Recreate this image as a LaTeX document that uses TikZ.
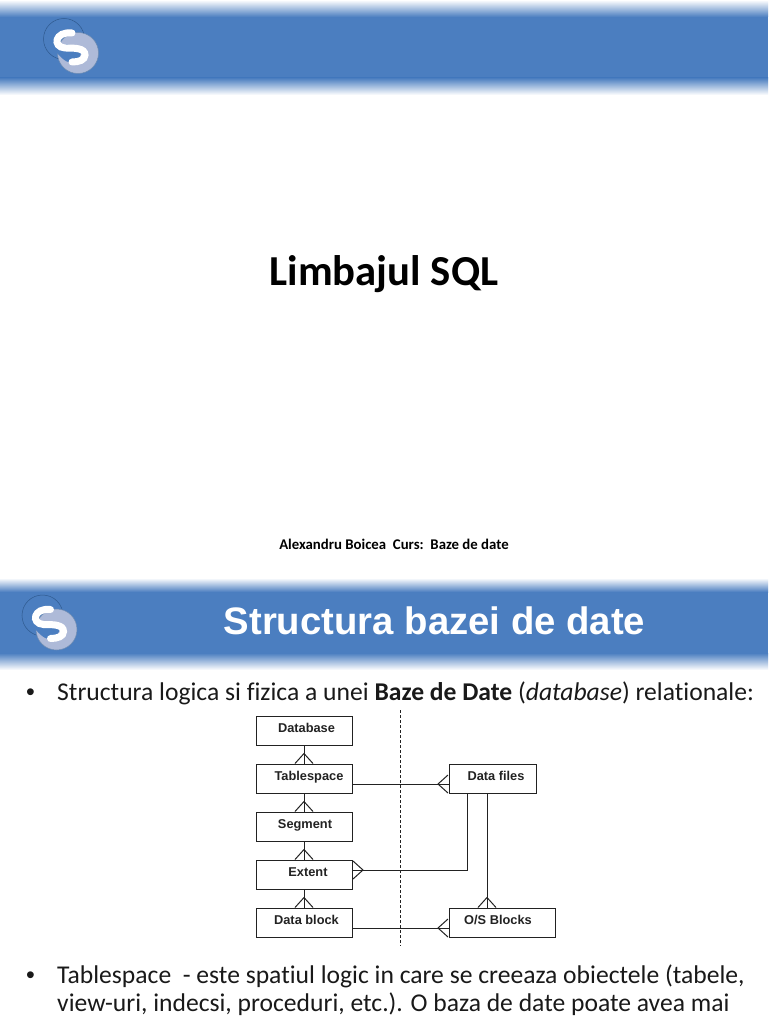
\documentclass[tikz,border=0pt]{standalone}
\usepackage{fontspec}
\setmainfont[Ligatures=NoCommon]{Carlito}
\newfontfamily\boxfont[Ligatures=NoCommon]{Liberation Sans}
\usetikzlibrary{arrows.meta, calc, positioning}
\definecolor{bandblue}{HTML}{4B7EC0}
\definecolor{logolight}{HTML}{AEBAD8}
\definecolor{logoedge}{HTML}{2F5A8F}
\definecolor{inkline}{HTML}{222222}
\tikzset{
    entity/.style={draw=inkline, line width=1pt, minimum height=29pt, inner sep=0pt, text depth=5.5pt, text height=8.5pt, font=\boxfont\bfseries\fontsize{12.8}{13}\selectfont, text=inkline},
    link/.style={draw=inkline, line width=1pt},
    crow/.style={link, preaction={draw=inkline, -}, -{Straight Barb[reversed, length=10pt, width=18pt, line width=1pt]}},
    bullet/.style={font=\fontsize{25.6}{28}\selectfont, anchor=base west, inner sep=0pt, text=black!90},
}
\begin{document}
\begin{tikzpicture}[x=1pt, y=-1pt]

    \useasboundingbox (0,0) rectangle (768,1024);

    % Bands
    \foreach \ytop/\ymid/\ylow/\yend in {0/17/78/95, 578/592/653/670} {
        \shade[top color=white, bottom color=bandblue] (0,\ytop) rectangle (768,\ymid);
        \fill[bandblue] (0,\ymid) rectangle (768,\ylow);
        \shade[top color=bandblue, bottom color=white] (0,\ylow) rectangle (768,\yend);
    }

    % Logos
    \foreach \cx/\cy in {71/46, 49.5/622.5} {
        \begin{scope}[shift={(\cx,\cy)}]
            \fill[bandblue, draw=logoedge, line width=0.5pt] (-7,-7) circle (20.5);
            \fill[logolight, draw=logoedge!70, line width=0.5pt] (7,7) circle (20.5);
            \fill[bandblue] (-17,3) .. controls (-10,-4) and (2,-2) .. (10,4) .. controls (11,8) and (9,13) .. (0,17) .. controls (-6,16) and (-12,10) .. (-17,3);
            \draw[white, line width=7pt, line cap=round] (1,-13) .. controls (-16,-15) and (-19,1) .. (-6,2) .. controls (4,2) and (14,2) .. (14,9) .. controls (14,14) and (8,16) .. (1,16);
        \end{scope}
    }

    % Titles
    \node[font=\bfseries\fontsize{42.7}{46}\selectfont, inner sep=0pt, anchor=base] (title) at (384,285) {Limbajul SQL};
    \node[font=\bfseries\fontsize{14.8}{16}\selectfont, inner sep=0pt, anchor=base] (author) at (394,549) {Alexandru Boicea\ \ Curs:\ \ Baze de date};
    \node[font=\boxfont\bfseries\fontsize{38.3}{42}\selectfont, text=white, inner sep=0pt, anchor=base] (heading) at (434.5,634) {Structura bazei de date};

    % Bullets
    \node[bullet, font=\boxfont\fontsize{25}{28}\selectfont] (bulletone) at (26,700) {•};
    \node[bullet] (lineone) at (57,700) {Structura logica si fizica a unei \textbf{Baze de Date} (\textit{database}) relationale:};
    \node[bullet, font=\boxfont\fontsize{25}{28}\selectfont] (bullettwo) at (26,983) {•};
    \node[bullet] (linetwo) at (57,983) {Tablespace\ \ - este spatiul logic in care se creeaza obiectele (tabele,};
    \node[bullet] (linethree) at (57,1011) {view-uri, indecsi, proceduri, etc.). O baza de date poate avea mai};

    % Logical side
    \node[entity, minimum width=96pt] (database) at (304,731) {\hspace*{5pt}Database};
    \node[entity, minimum width=96pt, below=18pt of database] (tablespace) {\hspace*{10pt}Tablespace};
    \node[entity, minimum width=96pt, below=18pt of tablespace] (segment) {\hspace*{2pt}Segment};
    \node[entity, minimum width=96pt, below=18pt of segment] (extent) {\hspace*{8pt}Extent};
    \node[entity, minimum width=96pt, below=18pt of extent] (datablock) {\hspace*{5pt}Data block};

    % Physical side
    \node[entity, minimum width=87pt, right=96pt of tablespace] (datafiles) {\hspace*{7pt}Data files};
    \node[entity, minimum width=106pt, right=96pt of datablock] (osblocks) {O/S Blocks\hspace*{8pt}};

    % Divider
    \coordinate (dashtop) at (400.5,710);
    \coordinate (dashbottom) at (400.5,946);
    \draw[inkline, line width=1pt, dashed, dash pattern=on 3pt off 2pt] (dashtop) -- (dashbottom);

    % Connectors
    \draw[crow] (database) -- (tablespace);
    \draw[crow] (tablespace) -- (segment);
    \draw[crow] (segment) -- (extent);
    \draw[crow] (extent) -- (datablock);
    \draw[crow] ($(tablespace.east)+(0,5)$) -- ($(datafiles.west)+(0,5)$);
    \draw[crow] ($(datablock.east)+(0,5)$) -- ($(osblocks.west)+(0,5)$);
    \draw[crow] ($(datafiles.south west)+(19,0)$) |- ($(extent.east)+(0,-5)$);
    \draw[crow] ($(datafiles.south west)+(38.5,0)$) -- ($(osblocks.north west)+(38.5,0)$);

\end{tikzpicture}
\end{document}
